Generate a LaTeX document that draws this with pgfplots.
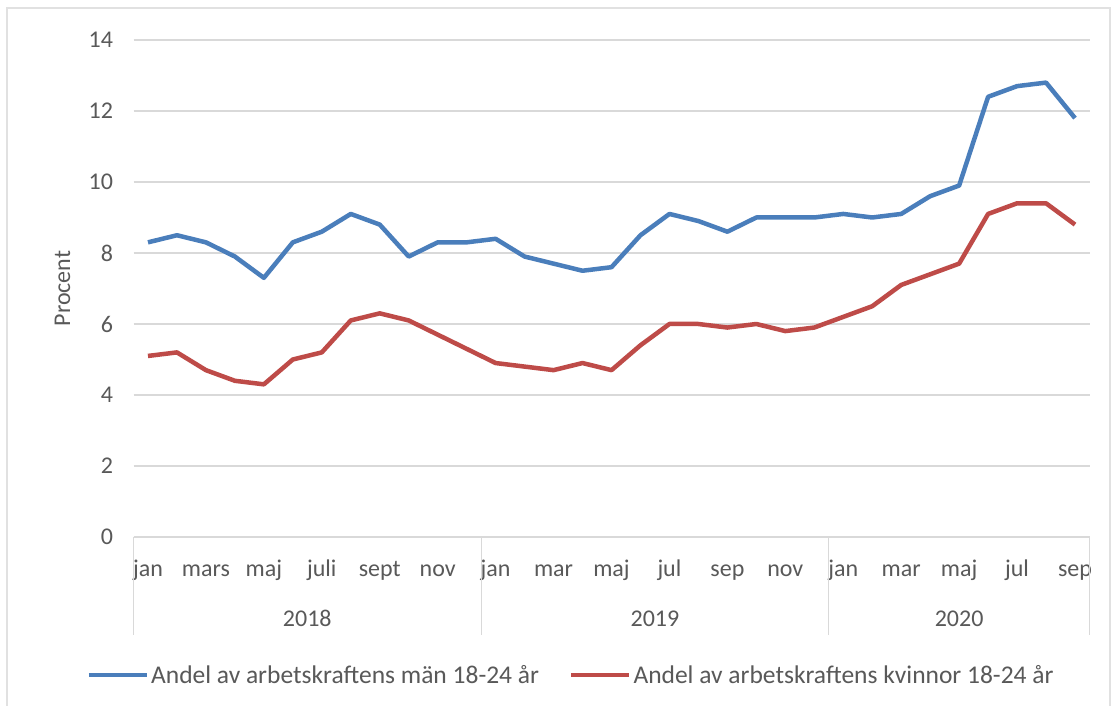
\documentclass[border=0pt]{standalone}
\usepackage{pgfplots}
\pgfplotsset{compat=1.18}
\usepackage{fontspec}
\setmainfont{Carlito}
\definecolor{menblue}{HTML}{4A7EBB}
\definecolor{womred}{HTML}{BE4B48}
\definecolor{txtgray}{HTML}{595959}
\definecolor{gridgray}{HTML}{D9D9D9}
\pgfplotstableread{
x men women
0 8.3 5.1
1 8.5 5.2
2 8.3 4.7
3 7.9 4.4
4 7.3 4.3
5 8.3 5.0
6 8.6 5.2
7 9.1 6.1
8 8.8 6.3
9 7.9 6.1
10 8.3 5.7
11 8.3 5.3
12 8.4 4.9
13 7.9 4.8
14 7.7 4.7
15 7.5 4.9
16 7.6 4.7
17 8.5 5.4
18 9.1 6.0
19 8.9 6.0
20 8.6 5.9
21 9.0 6.0
22 9.0 5.8
23 9.0 5.9
24 9.1 6.2
25 9.0 6.5
26 9.1 7.1
27 9.6 7.4
28 9.9 7.7
29 12.4 9.1
30 12.7 9.4
31 12.8 9.4
32 11.8 8.8
}\datatable
\begin{document}
\begin{tikzpicture}
\useasboundingbox (0pt,0pt) rectangle (1114pt,706pt);
\fill[white] (0pt,0pt) rectangle (1114pt,706pt);
\draw[gridgray!80, line width=1.5pt] (7pt,-20pt) rectangle (1110pt,698pt);
\begin{axis}[
  at={(133.5pt,169pt)}, anchor=south west,
  scale only axis, width=956pt, height=497pt,
  xmin=-0.5, xmax=32.5, ymin=0, ymax=14,
  ytick={0,2,...,14},
  xtick={0,2,...,32},
  xticklabels={jan,mars,maj,juli,sept,nov,jan,mar,maj,jul,sep,nov,jan,mar,maj,jul,sep},
  axis line style={draw=none},
  major tick length=0pt,
  ymajorgrids, grid style={gridgray, line width=1.2pt},
  tick label style={font=\fontsize{24}{28}\selectfont, text=txtgray},
  /pgf/number format/assume math mode=true,
  yticklabel style={anchor=east, xshift=-17pt},
  xticklabel style={anchor=base, yshift=-40pt},
  ylabel={Procent},
  ylabel style={font=\fontsize{24}{28}\selectfont, text=txtgray, at={(axis description cs:-0.0743,0.5)}, anchor=center},
  legend columns=2,
  legend style={at={(0.4577,-0.2777)}, anchor=center, draw=none, fill=none,
    font=\fontsize{25.5}{30}\selectfont, text=txtgray,
    /tikz/every even column/.append style={column sep=28pt},
    inner sep=0pt},
  legend image code/.code={\draw[#1, line width=4.5pt] (0pt,0pt) -- (58pt,0pt);},
  clip=false,
]
\addplot[menblue, line width=4.5pt, line join=round] table[x=x, y=men] {\datatable};
\addlegendentry{Andel av arbetskraftens män 18-24 år}
\addplot[womred, line width=4.5pt, line join=round] table[x=x, y=women] {\datatable};
\addlegendentry{Andel av arbetskraftens kvinnor 18-24 år}
\draw[gridgray, line width=1.2pt] (axis cs:-0.5,0) -- ([yshift=-98pt]axis cs:-0.5,0);
\draw[gridgray, line width=1.2pt] (axis cs:11.5,0) -- ([yshift=-98pt]axis cs:11.5,0);
\draw[gridgray, line width=1.2pt] (axis cs:23.5,0) -- ([yshift=-98pt]axis cs:23.5,0);
\draw[gridgray, line width=1.2pt] (axis cs:32.5,0) -- ([yshift=-98pt]axis cs:32.5,0);
\node[anchor=base, font=\fontsize{24}{28}\selectfont, text=txtgray] at ([yshift=-90pt]axis cs:5.5,0) {2018};
\node[anchor=base, font=\fontsize{24}{28}\selectfont, text=txtgray] at ([yshift=-90pt]axis cs:17.5,0) {2019};
\node[anchor=base, font=\fontsize{24}{28}\selectfont, text=txtgray] at ([yshift=-90pt]axis cs:28,0) {2020};
\end{axis}
\end{tikzpicture}
\end{document}
